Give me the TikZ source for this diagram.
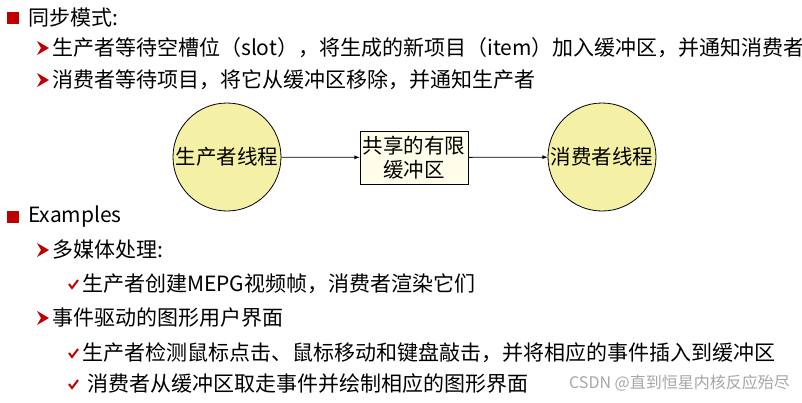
\documentclass[tikz,border=0pt]{standalone}
\usepackage{fontspec}
\setmainfont{Noto Sans CJK SC}
\begin{document}
\begin{tikzpicture}[x=1pt,y=-1pt,
 txt/.style={anchor=west,inner sep=0pt,font=\fontsize{21}{24}\selectfont},
 th/.style={circle,draw,thick,fill=yellow!25!white!90!olive,minimum size=108pt,inner sep=0pt,font=\fontsize{20.5}{24}\selectfont},
 buf/.style={draw,thick,fill=yellow!8,minimum width=108pt,minimum height=53pt,inner sep=1pt,align=center,font=\fontsize{20.5}{24}\selectfont},
 arr/.style={-latex,thick}]
\useasboundingbox (0,0) rectangle (802,402);
\definecolor{bred}{RGB}{192,0,0}
\newcommand{\sq}[1]{\fill[bred] (7,#1-6) rectangle (19,#1+6);}
\newcommand{\ar}[2]{\fill[bred] (#1,#2-7) -- (#1+12,#2) -- (#1,#2+7) -- (#1+4,#2) -- cycle;}
\newcommand{\ck}[2]{\draw[bred,line width=2pt] (#1,#2) -- (#1+3,#2+4) -- (#1+9,#2-4);}
\sq{18}\node[txt] (a) at (28,18) {同步模式:};
\ar{37}{48}\node[txt] (b) at (52,48) {生产者等待空槽位（slot），将生成的新项目（item）加入缓冲区，并通知消费者};
\ar{37}{80}\node[txt] (c) at (52,80) {消费者等待项目，将它从缓冲区移除，并通知生产者};
\node[th] (p) at (227,157) {生产者线程};
\node[buf] (q) at (414,157.5) {共享的有限\\缓冲区};
\node[th] (s) at (602,157) {消费者线程};
\draw[arr] (p) -- (q);
\draw[arr] (q) -- (s);
\sq{217}\node[txt] (d) at (28,217) {Examples};
\ar{37}{250}\node[txt] (e) at (52,250) {多媒体处理:};
\ck{69}{284}\node[txt] (f) at (82,284) {生产者创建MEPG视频帧，消费者渲染它们};
\ar{37}{318}\node[txt] (g) at (52,318) {事件驱动的图形用户界面};
\ck{69}{353}\node[txt] (h) at (82,353) {生产者检测鼠标点击、鼠标移动和键盘敲击，并将相应的事件插入到缓冲区};
\ck{69}{384}\node[txt] (i) at (87,384) {消费者从缓冲区取走事件并绘制相应的图形界面};
\node[anchor=east,inner sep=0pt,text=gray!70,font=\fontsize{16}{18}\selectfont] (w) at (790,383) {CSDN @直到恒星内核反应殆尽};
\end{tikzpicture}
\end{document}
